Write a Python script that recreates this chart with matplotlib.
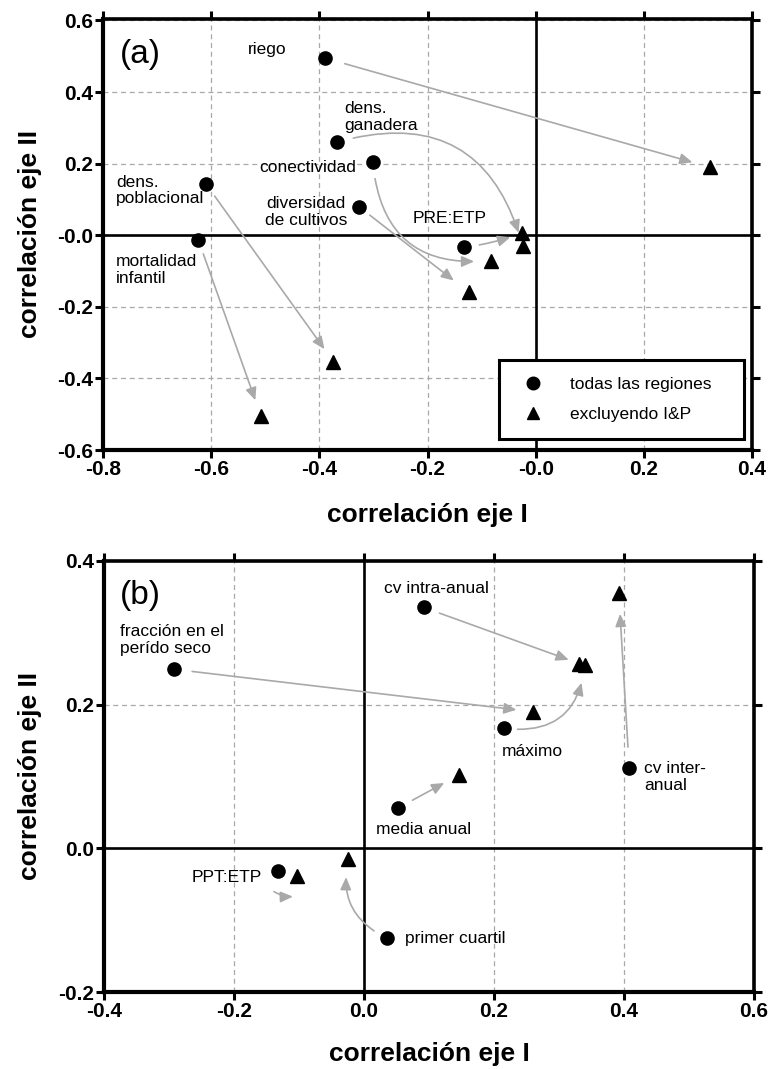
import matplotlib
matplotlib.use('Agg')
import matplotlib.pyplot as plt
from matplotlib.transforms import offset_copy
from matplotlib.patches import Rectangle

plt.rcParams['font.family'] = ['Liberation Sans', 'DejaVu Sans']

# ---------------- data: panel (a) ----------------
a_vars = ['riego', 'dens. ganadera', 'conectividad', 'diversidad de cultivos',
          'dens. poblacional', 'mortalidad infantil', 'PRE:ETP']
a_all_x = [-0.390, -0.367, -0.301, -0.327, -0.610, -0.624, -0.132]
a_all_y = [0.495, 0.260, 0.204, 0.080, 0.144, -0.012, -0.034]
a_exc_x = [0.322, -0.024, -0.083, -0.123, -0.374, -0.508, -0.025]
a_exc_y = [0.190, -0.030, -0.071, -0.160, -0.353, -0.505, 0.005]
a_xticks = [-0.8, -0.6, -0.4, -0.2, 0.0, 0.2, 0.4]
a_xticklabels = ['-0.8', '-0.6', '-0.4', '-0.2', '-0.0', '0.2', '0.4']
a_yticks = [-0.6, -0.4, -0.2, 0.0, 0.2, 0.4, 0.6]
a_yticklabels = ['-0.6', '-0.4', '-0.2', '-0.0', '0.2', '0.4', '0.6']

# ---------------- data: panel (b) ----------------
b_vars = ['cv intra-anual', 'fracción en el perído seco', 'máximo', 'cv inter-anual',
          'media anual', 'PPT:ETP', 'primer cuartil']
b_all_x = [0.092, -0.292, 0.215, 0.408, 0.052, -0.132, 0.036]
b_all_y = [0.335, 0.249, 0.167, 0.112, 0.056, -0.032, -0.125]
b_exc_x = [0.331, 0.260, 0.340, 0.392, 0.146, -0.103, -0.024]
b_exc_y = [0.257, 0.190, 0.255, 0.355, 0.102, -0.039, -0.015]
b_xticks = [-0.4, -0.2, 0.0, 0.2, 0.4, 0.6]
b_xticklabels = ['-0.4', '-0.2', '0.0', '0.2', '0.4', '0.6']
b_yticks = [-0.2, 0.0, 0.2, 0.4]
b_yticklabels = ['-0.2', '0.0', '0.2', '0.4']

legend_labels = ['todas las regiones', 'excluyendo I&P']

# ---------------- styling (per-arrow) ----------------
a_rad = [0.0, -0.5, 0.5, 0.0, 0.0, 0.0, 0.05]
a_off = [(0, 0)] * 7
a_shrA = [15, 12, 12, 10, 11, 11, 11]
a_shrB = [13, 10, 12, 14, 11, 12, 9]
a_text = [('riego', -0.46, 0.519, 'right'),
          ('dens.\nganadera', -0.354, 0.331, 'left'),
          ('conectividad', -0.332, 0.188, 'right'),
          ('diversidad\nde cultivos', -0.425, 0.065, 'center'),
          ('dens.\npoblacional', -0.776, 0.125, 'left'),
          ('mortalidad\ninfantil', -0.776, -0.098, 'left'),
          ('PRE:ETP', -0.159, 0.048, 'center')]

b_rad = [0.0, 0.0, 0.5, 0.0, 0.0, 0.15, -0.4]
b_off = [(0, 0), (0, 0), (0, 0), (0, 0), (0, 0), (-3, -14.5), (0, 0)]
b_shrA = [12, 13, 10, 15, 12, 0, 11]
b_shrB = [8, 12, 13, 15, 12, 0, 13]
b_text = [('cv intra-anual', 0.111, 0.361, 'center'),
          ('fracción en el\nperído seco', -0.375, 0.290, 'left'),
          ('máximo', 0.212, 0.135, 'left'),
          ('cv inter-\nanual', 0.431, 0.0996, 'left'),
          ('media anual', 0.091, 0.026, 'center'),
          ('PPT:ETP', -0.157, -0.040, 'right'),
          ('primer cuartil', 0.063, -0.125, 'left')]

W, H = 772, 1069
fig = plt.figure(figsize=(W / 100, H / 100), dpi=100)
ax_a = fig.add_axes([103 / W, 1 - 450 / H, 649 / W, 431 / H])
ax_b = fig.add_axes([104 / W, 1 - 992.3 / H, 650 / W, 431.6 / H])

ARROW_C = '#a9a9a9'
GRID_C = '#a8a8a8'


def style_axes(ax, xlim, ylim, xt, xtl, yt, ytl):
    ax.set_xlim(*xlim)
    ax.set_ylim(*ylim)
    ax.set_xticks(xt)
    ax.set_xticklabels(xtl)
    ax.set_yticks(yt)
    ax.set_yticklabels(ytl)
    for lab in ax.get_xticklabels() + ax.get_yticklabels():
        lab.set_fontweight('bold')
    ax.tick_params(direction='out', length=5.5, width=2.2, labelsize=15, pad=1.5,
                   top=True, right=True, labeltop=False, labelright=False)
    for side in ['left', 'bottom']:
        ax.spines[side].set_linewidth(3.0)
    for side in ['top', 'right']:
        ax.spines[side].set_linewidth(2.6)
    ax.grid(True, color=GRID_C, lw=0.9, ls=(0, (4, 3)))
    ax.set_axisbelow(True)
    ax.axhline(0, color='black', lw=1.9, zorder=1.5)
    ax.axvline(0, color='black', lw=1.9, zorder=1.5)
    ax.set_xlabel('correlación eje I', fontsize=19, fontweight='bold', va='center')
    ax.set_ylabel('correlación eje II', fontsize=19, fontweight='bold', va='center')


def draw_panel(ax, xa, ya, xe, ye, rads, offs, shA, shB, texts):
    for i in range(len(xa)):
        tr = offset_copy(ax.transData, fig=fig, x=offs[i][0], y=offs[i][1], units='points')
        ax.annotate('', xy=(xe[i], ye[i]), xycoords=tr,
                    xytext=(xa[i], ya[i]), textcoords=tr,
                    arrowprops=dict(arrowstyle='-|>,head_length=0.5,head_width=0.22',
                                    mutation_scale=15, color=ARROW_C, lw=1.2,
                                    shrinkA=shA[i], shrinkB=shB[i],
                                    connectionstyle='arc3,rad=%s' % rads[i]),
                    zorder=2)
    ax.plot(xa, ya, 'o', color='black', ms=9.5, ls='none', zorder=3, label=legend_labels[0])
    ax.plot(xe, ye, '^', color='black', ms=9.5, ls='none', zorder=3, label=legend_labels[1])
    for t, x, y, ha in texts:
        ax.text(x, y, t, ha=ha, va='center', fontsize=12.5, multialignment=ha,
                linespacing=1.15, zorder=4)


style_axes(ax_a, (-0.8, 0.4), (-0.6, 0.604), a_xticks, a_xticklabels, a_yticks, a_yticklabels)
style_axes(ax_b, (-0.4, 0.6), (-0.2, 0.4), b_xticks, b_xticklabels, b_yticks, b_yticklabels)

draw_panel(ax_a, a_all_x, a_all_y, a_exc_x, a_exc_y, a_rad, a_off, a_shrA, a_shrB, a_text)
draw_panel(ax_b, b_all_x, b_all_y, b_exc_x, b_exc_y, b_rad, b_off, b_shrA, b_shrB, b_text)

ax_a.text(-0.769, 0.505, '(a)', fontsize=24, ha='left', va='center')
ax_b.text(-0.375, 0.352, '(b)', fontsize=24, ha='left', va='center')

ax_a.xaxis.set_label_coords(0.5, -0.151)
ax_a.yaxis.set_label_coords(-0.113, 0.5)
ax_b.xaxis.set_label_coords(0.5, -0.143)
ax_b.yaxis.set_label_coords(-0.114, 0.5)

# legend (frame drawn separately so it can be wider than its content)
leg = ax_a.legend(loc='upper left', bbox_to_anchor=(0.636, 0.170), borderaxespad=0,
                  borderpad=0, fontsize=12.5, frameon=False, handlelength=2.0,
                  handletextpad=1.1, labelspacing=0.87, markerscale=0.95)
leg.set_zorder(6)
ax_a.add_patch(Rectangle((0.610, 0.0255), 0.378, 0.1835, transform=ax_a.transAxes,
                         facecolor='white', edgecolor='black', lw=2.2, zorder=5))

fig.savefig('out.png', dpi=100)
